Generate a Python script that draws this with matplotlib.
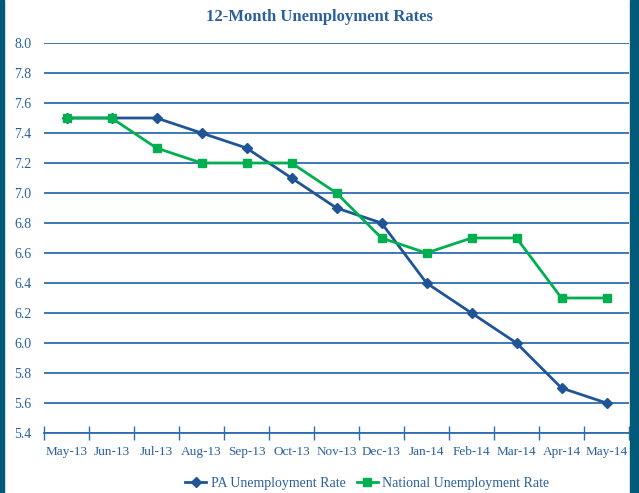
import matplotlib
matplotlib.use("Agg")
import matplotlib.pyplot as plt
from matplotlib.patches import Rectangle
from matplotlib.ticker import FixedLocator, NullFormatter
import numpy as np

months = ["May-13", "Jun-13", "Jul-13", "Aug-13", "Sep-13", "Oct-13", "Nov-13",
          "Dec-13", "Jan-14", "Feb-14", "Mar-14", "Apr-14", "May-14"]
pa_rate = [7.5, 7.5, 7.5, 7.4, 7.3, 7.1, 6.9, 6.8, 6.4, 6.2, 6.0, 5.7, 5.6]
national_rate = [7.5, 7.5, 7.3, 7.2, 7.2, 7.2, 7.0, 6.7, 6.6, 6.7, 6.7, 6.3, 6.3]
y_ticks = [5.4, 5.6, 5.8, 6.0, 6.2, 6.4, 6.6, 6.8, 7.0, 7.2, 7.4, 7.6, 7.8, 8.0]

font = "Liberation Serif"
blue = "#1F5597"
green = "#00B050"
text_blue = "#2A5F9E"
grid_blue = "#2E6DAE"
border = "#005A78"

fig = plt.figure(figsize=(6.39, 4.93), dpi=100)
fig.patches.append(Rectangle((0, 0), 4/639, 1, transform=fig.transFigure, color=border, zorder=0))
fig.patches.append(Rectangle((630/639, 0), 9/639, 1, transform=fig.transFigure, color=border, zorder=0))

ax = fig.add_axes([44/639, 1 - 433/493, 585/639, 390/493])
x = np.arange(len(months))
ax.plot(x, pa_rate, color=blue, lw=2, marker="D", ms=5, label="PA Unemployment Rate", zorder=3)
ax.plot(x, national_rate, color=green, lw=2, marker="s", ms=6, label="National Unemployment Rate", zorder=3)

ax.set_xlim(-0.5, len(months) - 0.5)
ax.set_ylim(5.4, 8.0)
ax.set_yticks(y_ticks)
ax.set_yticklabels([f"{v:.1f}" for v in y_ticks], fontsize=10, color=text_blue, family=font)
ax.tick_params(axis="y", length=0, pad=9)
ax.yaxis.grid(True, color=grid_blue, lw=1.3)
ax.set_axisbelow(True)

ax.xaxis.set_major_locator(FixedLocator(np.arange(-0.5, len(months), 1.0)))
ax.xaxis.set_major_formatter(NullFormatter())
ax.xaxis.set_minor_locator(FixedLocator(x))
ax.set_xticklabels(months, minor=True, fontsize=9.5, color=text_blue, family=font)
for lab in ax.get_xticklabels(minor=True):
    lab.set_verticalalignment("baseline")
ax.tick_params(axis="x", which="major", direction="inout", length=10, color=grid_blue, width=1)
ax.tick_params(axis="x", which="minor", length=0, pad=16)

for s in ["top", "right", "left"]:
    ax.spines[s].set_visible(False)
ax.spines["bottom"].set_color(grid_blue)
ax.spines["bottom"].set_linewidth(1.3)

fig.text(0.5, 1 - 17/493, "12-Month Unemployment Rates", ha="center", va="center",
         fontsize=12, fontweight="bold", color="#2A5F9E", family=font)

leg = fig.legend(loc="center", bbox_to_anchor=(0.575, 1 - 483/493), ncol=2, frameon=False,
                 prop={"family": font, "size": 10}, handlelength=1.5, columnspacing=0.8,
                 handletextpad=0.35)
for t in leg.get_texts():
    t.set_color(text_blue)

fig.savefig("out.png", dpi=100)
